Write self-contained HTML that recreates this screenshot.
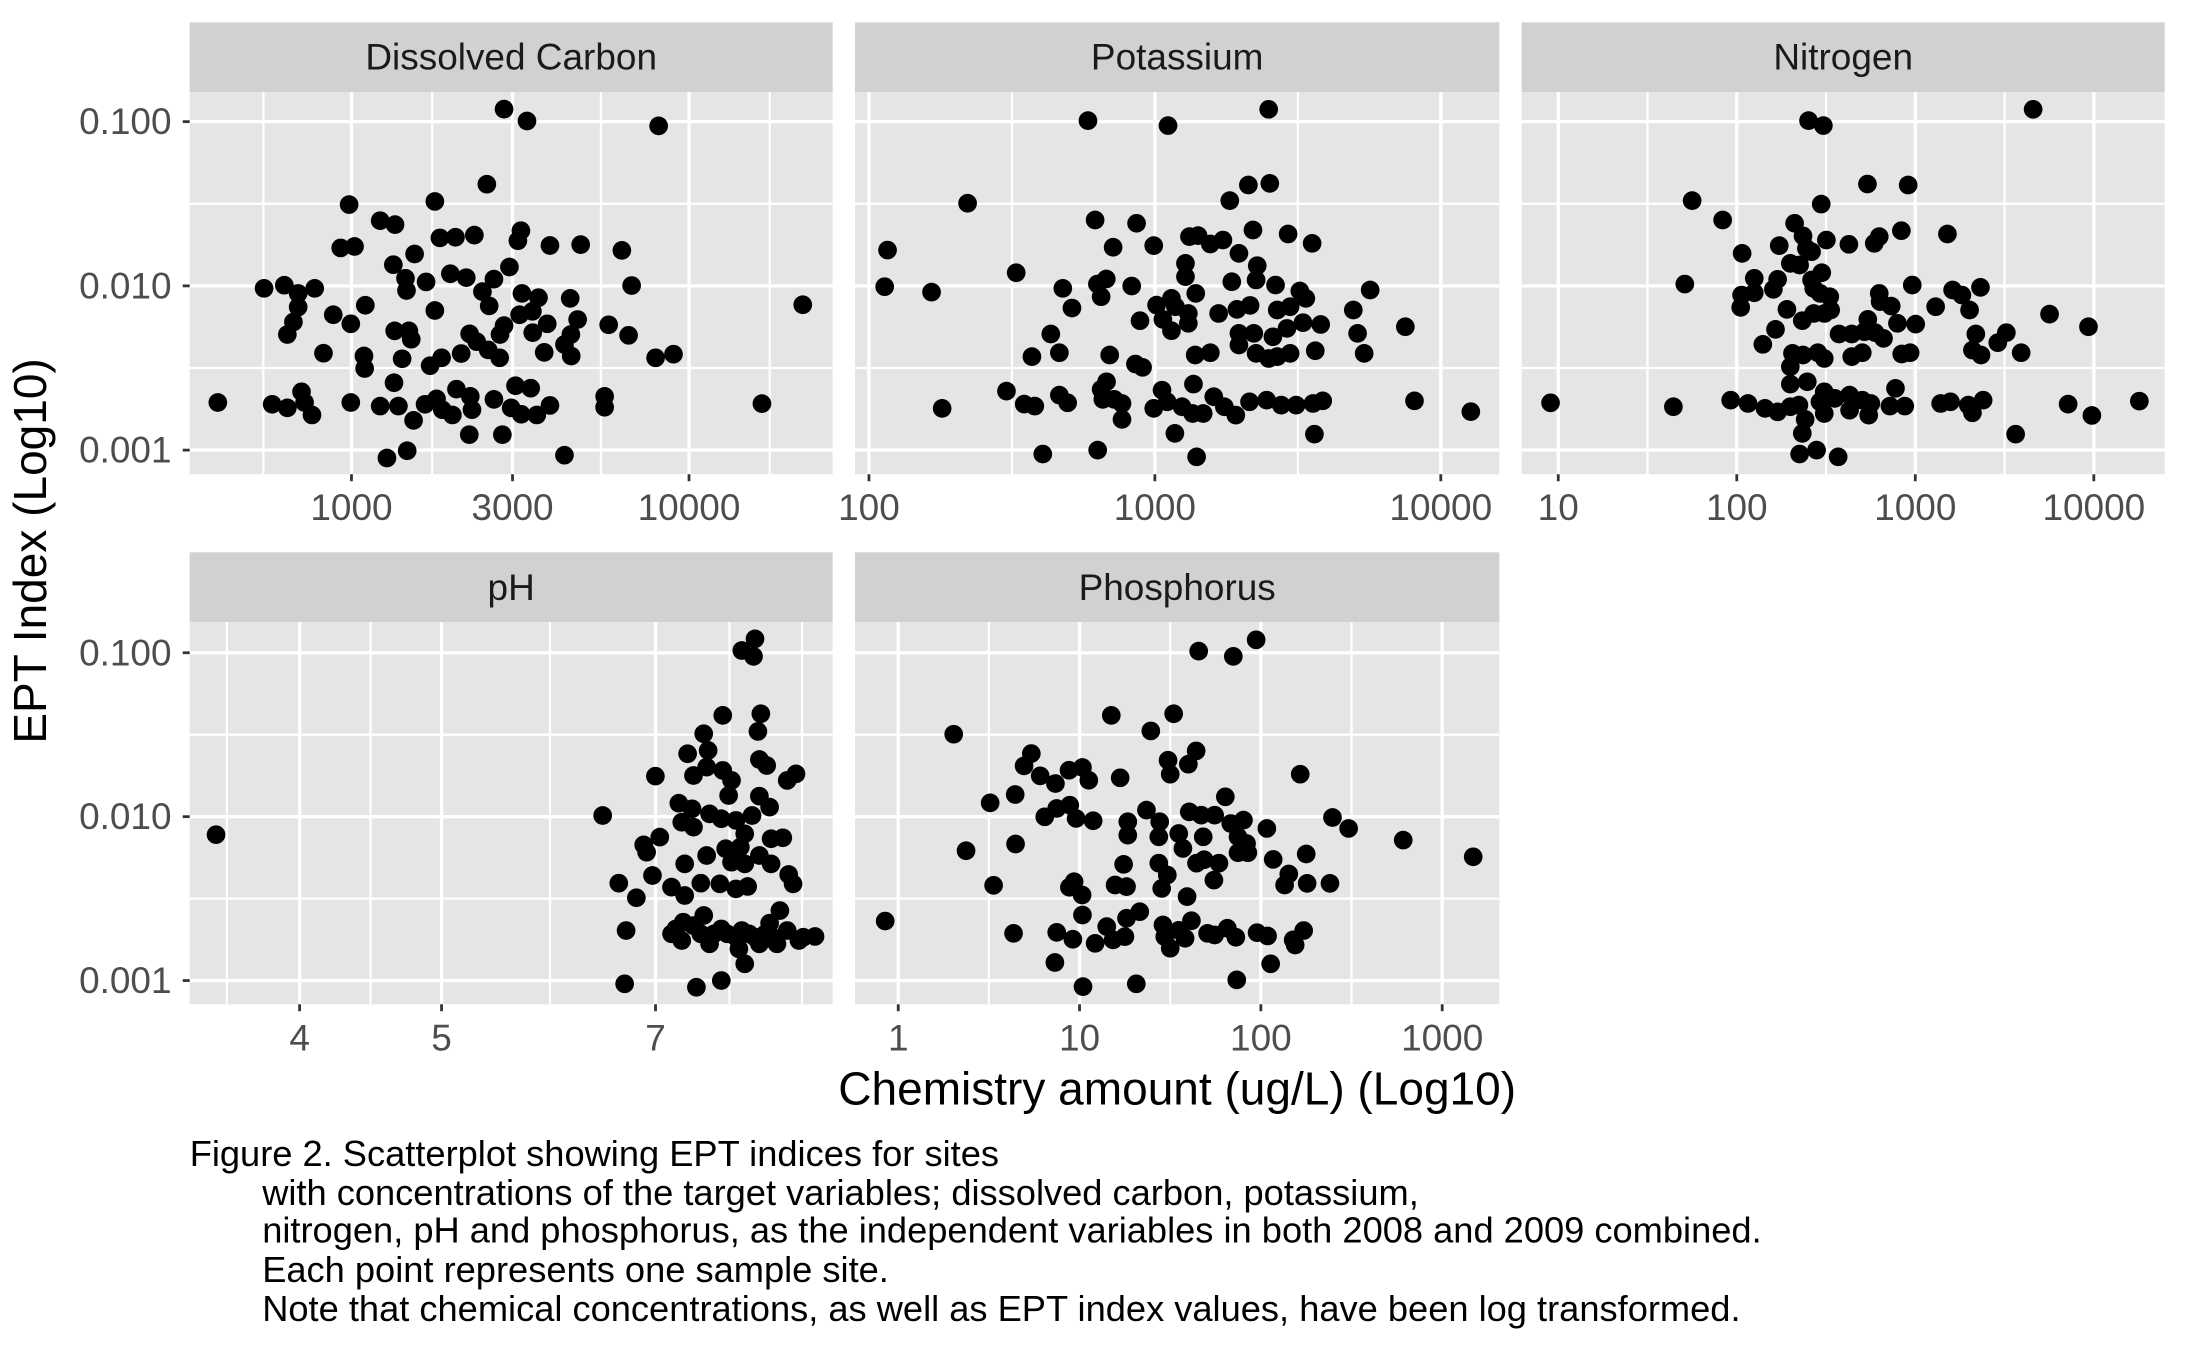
<!DOCTYPE html>
<html><head><meta charset="utf-8"><style>
html,body{margin:0;padding:0;background:#fff;}
svg{display:block;}
text{font-family:"Liberation Sans",Arial,sans-serif;}
</style></head><body>
<svg id="chart" width="2187" height="1351" viewBox="0 0 1568 968.6" xmlns="http://www.w3.org/2000/svg">
<text x="0" y="0" transform="translate(33,395) rotate(-90)" text-anchor="middle" font-size="33" fill="#000">EPT Index (Log10)</text>
<text x="844" y="792" text-anchor="middle" font-size="33" fill="#000">Chemistry amount (ug/L) (Log10)</text>
<g font-size="26" fill="#000">
<text x="136" y="836">Figure 2. Scatterplot showing EPT indices for sites</text>
<text x="188" y="864">with concentrations of the target variables; dissolved carbon, potassium,</text>
<text x="188" y="891">nitrogen, pH and phosphorus, as the independent variables in both 2008 and 2009 combined.</text>
<text x="188" y="919">Each point represents one sample site.</text>
<text x="188" y="947">Note that chemical concentrations, as well as EPT index values, have been log transformed.</text>
</g>
</svg>
<script>
// Data stored as log10 values (both axes are log10 transformed)
const dissolvedCarbonLogX = [3.452,3.520,3.910,3.401,2.993,3.247,3.085,3.129,3.262,3.308,3.364,3.502,3.493,3.588,3.679,3.801,2.968,3.009,3.187,3.124,3.468,3.293,3.340,3.160,3.163,3.221,3.422,3.388,3.408,2.741,2.801,2.842,2.891,2.842,2.828,2.810,2.946,2.998,3.041,3.247,3.830,3.505,3.554,3.648,3.498,3.536,3.452,3.440,3.580,3.537,3.670,3.650,3.631,3.651,3.762,3.821,4.337,3.128,3.170,3.177,3.350,3.371,3.405,3.439,3.325,3.267,3.233,3.150,3.037,3.039,2.917,3.571,3.901,3.954,3.126,3.486,3.531,3.750,3.750,4.216,2.604,2.765,2.810,2.852,2.861,2.883,2.998,3.085,3.139,3.184,3.218,3.252,3.269,3.299,3.311,3.352,3.357,3.422,3.473,3.503,3.549,3.588,3.349,3.447,3.105,3.165,3.631];
const dissolvedCarbonLogY = [-0.924,-0.996,-1.026,-1.381,-1.505,-1.486,-1.603,-1.627,-1.708,-1.704,-1.691,-1.664,-1.725,-1.754,-1.749,-1.784,-1.769,-1.760,-1.806,-1.871,-1.885,-1.926,-1.950,-1.954,-2.028,-1.976,-1.959,-2.035,-2.122,-2.015,-1.996,-2.046,-2.015,-2.129,-2.220,-2.296,-2.176,-2.231,-2.118,-2.150,-1.998,-2.046,-2.072,-2.076,-2.176,-2.155,-2.242,-2.296,-2.231,-2.285,-2.205,-2.296,-2.357,-2.427,-2.237,-2.301,-2.115,-2.274,-2.274,-2.325,-2.292,-2.340,-2.390,-2.438,-2.412,-2.438,-2.486,-2.444,-2.427,-2.503,-2.410,-2.405,-2.438,-2.416,-2.590,-2.608,-2.623,-2.673,-2.739,-2.717,-2.710,-2.721,-2.743,-2.645,-2.710,-2.786,-2.710,-2.732,-2.732,-2.819,-2.721,-2.688,-2.754,-2.786,-2.629,-2.673,-2.754,-2.691,-2.743,-2.782,-2.786,-2.728,-2.906,-2.906,-3.048,-3.004,-3.031];
const potassiumLogX = [3.398,2.766,3.046,3.327,3.402,3.262,2.345,2.791,2.936,3.343,3.466,3.121,3.151,3.194,3.238,3.294,3.550,2.854,2.996,2.065,3.107,3.358,3.107,2.515,2.055,2.219,2.678,2.799,2.830,2.812,2.919,3.269,3.354,3.422,3.143,3.753,3.507,3.528,2.710,3.006,3.058,3.072,3.117,3.117,3.028,3.058,2.948,3.223,3.287,3.333,3.428,3.473,3.518,3.462,3.580,3.694,3.709,3.876,3.732,2.636,2.666,2.570,2.842,2.932,2.957,3.141,3.194,3.294,3.346,3.294,3.354,3.398,3.428,3.413,3.473,3.561,2.481,2.256,2.543,2.580,2.666,2.695,2.831,2.812,2.818,2.858,2.885,2.885,3.025,2.996,3.070,3.043,3.095,3.135,3.132,3.169,3.206,3.243,3.283,3.331,3.391,3.442,3.494,3.553,3.587,3.558,3.908,4.105,2.608,2.800,3.146];
const potassiumLogY = [-0.925,-0.994,-1.024,-1.386,-1.376,-1.481,-1.497,-1.599,-1.619,-1.660,-1.684,-1.700,-1.694,-1.745,-1.721,-1.802,-1.741,-1.765,-1.755,-1.782,-1.863,-1.877,-1.944,-1.920,-2.005,-2.038,-2.015,-1.989,-1.958,-2.066,-2.001,-1.975,-1.964,-1.995,-2.046,-2.025,-2.031,-2.076,-2.135,-2.117,-2.076,-2.127,-2.168,-2.228,-2.204,-2.273,-2.212,-2.168,-2.143,-2.119,-2.147,-2.127,-2.224,-2.259,-2.235,-2.147,-2.289,-2.249,-2.411,-2.293,-2.407,-2.431,-2.421,-2.476,-2.496,-2.421,-2.407,-2.289,-2.289,-2.360,-2.411,-2.442,-2.431,-2.310,-2.411,-2.395,-2.641,-2.746,-2.720,-2.732,-2.665,-2.712,-2.584,-2.630,-2.691,-2.691,-2.716,-2.813,-2.635,-2.746,-2.898,-2.706,-2.736,-2.598,-2.777,-2.777,-2.675,-2.736,-2.787,-2.706,-2.696,-2.726,-2.726,-2.716,-2.700,-2.903,-2.700,-2.766,-3.024,-3.000,-3.041];
const nitrogenLogX = [3.660,2.402,2.485,2.732,2.960,1.750,2.473,1.921,2.324,2.922,3.180,2.371,2.502,2.238,2.030,2.390,2.419,2.628,2.770,2.798,2.300,2.352,2.476,2.419,2.431,2.467,2.521,2.526,2.491,2.431,2.367,2.281,1.709,2.098,2.229,2.205,2.027,2.098,2.022,2.983,2.798,2.803,2.865,3.114,3.209,3.261,3.304,3.365,3.752,3.970,2.734,2.900,3.002,2.573,2.644,2.715,2.775,2.822,2.644,2.703,2.217,2.146,2.312,2.371,2.454,2.490,2.300,2.924,2.971,3.339,3.510,3.462,3.320,3.368,3.593,2.300,2.395,0.957,1.645,1.966,2.063,2.158,2.229,2.300,2.348,2.383,2.367,2.490,2.466,2.490,2.549,2.632,2.632,2.703,2.739,2.751,2.858,2.889,2.941,3.142,3.197,3.297,3.320,3.380,3.562,3.856,3.989,4.255,2.352,2.447,2.568];
const nitrogenLogY = [-0.925,-0.994,-1.024,-1.380,-1.386,-1.481,-1.502,-1.599,-1.619,-1.664,-1.684,-1.696,-1.721,-1.755,-1.802,-1.772,-1.792,-1.747,-1.741,-1.700,-1.863,-1.873,-1.920,-1.964,-2.015,-2.046,-2.066,-2.147,-2.168,-2.168,-2.212,-2.143,-1.989,-1.954,-1.960,-2.021,-2.056,-2.042,-2.131,-1.995,-2.046,-2.096,-2.123,-2.127,-2.025,-2.056,-2.147,-2.009,-2.172,-2.249,-2.204,-2.228,-2.233,-2.293,-2.293,-2.279,-2.285,-2.320,-2.431,-2.407,-2.265,-2.356,-2.411,-2.421,-2.407,-2.442,-2.492,-2.415,-2.407,-2.293,-2.285,-2.346,-2.391,-2.421,-2.407,-2.598,-2.584,-2.712,-2.736,-2.696,-2.716,-2.746,-2.767,-2.736,-2.726,-2.813,-2.898,-2.645,-2.706,-2.777,-2.685,-2.665,-2.757,-2.696,-2.787,-2.716,-2.732,-2.624,-2.732,-2.716,-2.706,-2.726,-2.773,-2.696,-2.903,-2.720,-2.789,-2.702,-3.024,-3.000,-3.041];
const phLogX = [0.913,0.904,0.912,0.891,0.917,0.915,0.878,0.867,0.881,0.871,0.845,0.880,0.891,0.897,0.895,0.916,0.921,0.935,0.941,0.916,0.923,0.861,0.870,0.809,0.863,0.871,0.882,0.890,0.900,0.911,0.906,0.903,0.924,0.932,0.848,0.837,0.839,0.843,0.820,0.832,0.865,0.880,0.893,0.897,0.916,0.906,0.924,0.936,0.939,0.856,0.865,0.876,0.889,0.900,0.908,0.825,0.930,0.923,0.856,0.864,0.863,0.878,0.876,0.882,0.890,0.900,0.904,0.902,0.909,0.916,0.928,0.935,0.943,0.954,0.906,0.824,0.873,0.890,0.545,0.859,0.871,0.885,0.894,0.913,0.920,0.925,0.946];
const phLogY = [-0.915,-0.986,-1.022,-1.382,-1.372,-1.480,-1.494,-1.616,-1.596,-1.749,-1.753,-1.698,-1.718,-1.779,-1.871,-1.651,-1.688,-1.779,-1.739,-1.875,-1.942,-1.918,-1.952,-1.993,-2.034,-2.064,-1.983,-2.013,-2.023,-1.993,-2.105,-2.186,-2.135,-2.129,-2.125,-2.172,-2.217,-2.359,-2.406,-2.495,-2.288,-2.237,-2.196,-2.278,-2.237,-2.288,-2.288,-2.353,-2.410,-2.430,-2.481,-2.406,-2.410,-2.441,-2.426,-2.695,-2.573,-2.650,-2.715,-2.644,-2.756,-2.603,-2.715,-2.776,-2.685,-2.736,-2.695,-2.807,-2.715,-2.776,-2.776,-2.695,-2.756,-2.731,-2.898,-3.020,-3.041,-3.000,-2.110,-2.685,-2.665,-2.715,-2.715,-2.736,-2.715,-2.736,-2.736];
const phosphorusLogX = [1.974,1.657,1.848,1.175,1.519,1.393,0.306,0.734,0.694,0.783,0.867,0.942,1.016,1.051,1.224,1.488,1.500,1.600,1.643,2.217,1.804,0.507,0.645,0.808,0.874,0.946,0.981,1.075,1.369,1.266,1.266,1.442,1.437,1.547,1.605,1.671,1.745,1.834,1.904,1.874,1.921,1.874,1.928,2.033,1.682,1.570,2.395,2.484,2.785,3.171,0.374,0.647,2.068,2.250,2.154,2.131,2.255,2.381,0.526,1.243,1.437,1.484,1.453,1.645,1.687,1.769,1.741,1.196,1.259,0.970,0.944,1.014,1.593,1.016,1.332,1.259,-0.072,0.636,0.874,0.963,1.086,1.150,1.185,1.250,1.460,1.470,1.500,1.547,1.582,1.617,1.706,1.745,1.815,1.862,1.979,2.037,2.178,2.189,2.236,0.864,2.054,1.019,1.313,1.867];
const phosphorusLogY = [-0.921,-0.990,-1.022,-1.382,-1.372,-1.477,-1.497,-1.615,-1.690,-1.751,-1.798,-1.717,-1.700,-1.778,-1.763,-1.656,-1.741,-1.680,-1.599,-1.741,-1.879,-1.916,-1.865,-2.001,-1.950,-1.930,-2.011,-2.025,-1.960,-2.031,-2.113,-2.031,-2.123,-2.103,-1.971,-1.991,-1.991,-2.042,-2.021,-2.123,-2.164,-2.220,-2.220,-2.072,-2.123,-2.194,-2.005,-2.072,-2.143,-2.245,-2.208,-2.167,-2.261,-2.228,-2.350,-2.417,-2.407,-2.407,-2.419,-2.291,-2.284,-2.356,-2.438,-2.284,-2.263,-2.284,-2.387,-2.417,-2.427,-2.397,-2.431,-2.478,-2.488,-2.600,-2.580,-2.620,-2.637,-2.712,-2.706,-2.748,-2.773,-2.671,-2.752,-2.732,-2.661,-2.732,-2.803,-2.694,-2.742,-2.635,-2.712,-2.722,-2.681,-2.736,-2.708,-2.728,-2.752,-2.783,-2.695,-2.890,-2.898,-3.037,-3.020,-2.996];

const yTickValues = [0.1, 0.01, 0.001];
const yTickLabels = ["0.100", "0.010", "0.001"];
const dcTicks = [1000, 3000, 10000];
const kTicks = [100, 1000, 10000];
const nTicks = [10, 100, 1000, 10000];
const phTicks = [4, 5, 7];
const pTicks = [1, 10, 100, 1000];

const NS = "http://www.w3.org/2000/svg";
const svg = document.getElementById("chart");
function mk(tag, attrs, parent) {
  const e = document.createElementNS(NS, tag);
  for (const k in attrs) e.setAttribute(k, attrs[k]);
  (parent || svg).appendChild(e);
  return e;
}

const panels = [
  {name:"dissolved-carbon", title:"Dissolved Carbon", l:136, r:597, row:0, x0:252, lv0:3, k:242, xs:dissolvedCarbonLogX, ys:dissolvedCarbonLogY, ticks:dcTicks, minor:[2.739,3.239,3.739,4.239], yLabels:true},
  {name:"potassium", title:"Potassium", l:613, r:1075, row:0, x0:623, lv0:2, k:205, xs:potassiumLogX, ys:potassiumLogY, ticks:kTicks, minor:[2.5,3.5], yLabels:false},
  {name:"nitrogen", title:"Nitrogen", l:1091, r:1552, row:0, x0:1117.2, lv0:1, k:128, xs:nitrogenLogX, ys:nitrogenLogY, ticks:nTicks, minor:[1.5,2.5,3.5], yLabels:false},
  {name:"ph", title:"pH", l:136, r:597, row:1, x0:470, lv0:0.8451, k:1050, xs:phLogX, ys:phLogY, ticks:phTicks, minor:[0.5524,0.6505,0.7730,0.8956,0.9451], yLabels:true},
  {name:"phosphorus", title:"Phosphorus", l:613, r:1075, row:1, x0:644, lv0:0, k:130, xs:phosphorusLogX, ys:phosphorusLogY, ticks:pTicks, minor:[0.5,1.5,2.5], yLabels:false}
];
const rows = [
  {stripTop:16, top:66, bottom:340, y0:87.2, k:117.75},
  {stripTop:396, top:446, bottom:720, y0:468, k:117.5}
];

panels.forEach(p => {
  const R = rows[p.row];
  const xs = lv => p.x0 + (lv - p.lv0) * p.k;
  const ys = lv => R.y0 + (-1 - lv) * R.k;
  const g = mk("g", {});
  
  
  const strip = mk("rect", {x:p.l, y:R.stripTop, width:p.r-p.l, height:R.top-R.stripTop, fill:"#d1d1d1"}, g);
  
  
  const st = mk("text", {x:(p.l+p.r)/2, y:(R.stripTop+R.top)/2+9, "text-anchor":"middle", "font-size":"26.5", fill:"#1a1a1a"}, g);
  st.textContent = p.title;
  
  
  const bg = mk("rect", {x:p.l, y:R.top, width:p.r-p.l, height:R.bottom-R.top, fill:"#e5e5e5"}, g);
  
  
  [-1.5, -2.5].forEach(v => {
    const ln = mk("line", {x1:p.l, x2:p.r, y1:ys(v), y2:ys(v), stroke:"#fff", "stroke-width":"1.6"}, g);
    
    
  });
  p.minor.forEach(v => {
    const x = xs(v);
    if (x <= p.l || x >= p.r) return;
    const ln = mk("line", {x1:x, x2:x, y1:R.top, y2:R.bottom, stroke:"#fff", "stroke-width":"1.6"}, g);
    
    
  });
  yTickValues.forEach((v, i) => {
    const y = ys(Math.log10(v));
    const ln = mk("line", {x1:p.l, x2:p.r, y1:y, y2:y, stroke:"#fff", "stroke-width":"2.4"}, g);
    
    
    if (p.yLabels) {
      const tk = mk("line", {x1:p.l-5, x2:p.l, y1:y, y2:y, stroke:"#333", "stroke-width":"2"}, g);
      
      
      const t = mk("text", {x:p.l-13, y:y+9, "text-anchor":"end", "font-size":"26.5", fill:"#4d4d4d"}, g);
      t.textContent = yTickLabels[i];
      
      
    }
  });
  p.ticks.forEach(v => {
    const x = xs(Math.log10(v));
    const ln = mk("line", {x1:x, x2:x, y1:R.top, y2:R.bottom, stroke:"#fff", "stroke-width":"2.4"}, g);
    
    
    const tk = mk("line", {x1:x, x2:x, y1:R.bottom, y2:R.bottom+5, stroke:"#333", "stroke-width":"2"}, g);
    
    
    const t = mk("text", {x:x, y:R.bottom+33, "text-anchor":"middle", "font-size":"26.5", fill:"#4d4d4d"}, g);
    t.textContent = String(v);
    
    
  });
  const n = Math.min(p.xs.length, p.ys.length);
  for (let i = 0; i < n; i++) {
    const c = mk("circle", {cx:xs(p.xs[i]), cy:ys(p.ys[i]), r:6.7, fill:"#000"}, g);
    
    
  }
});
</script>
</body></html>
